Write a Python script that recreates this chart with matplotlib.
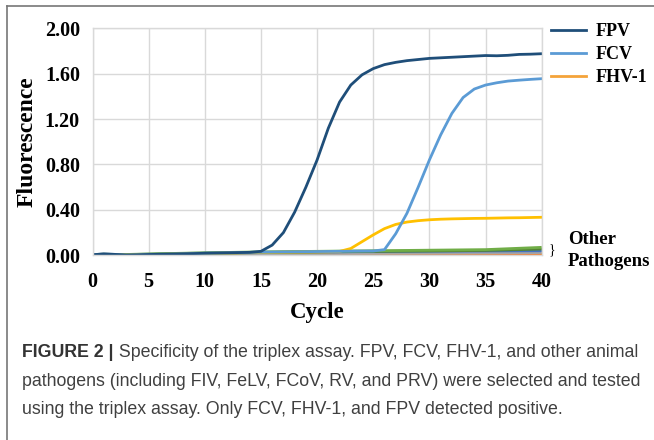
import matplotlib
matplotlib.use("Agg")
import matplotlib.pyplot as plt
from matplotlib.lines import Line2D

# ---------------- data ----------------
cycles = list(range(0, 41))
fpv = [0.005, 0.012, 0.008, 0.002, 0.004, 0.007, 0.009, 0.011, 0.013, 0.015,
       0.018, 0.02, 0.022, 0.024, 0.026, 0.035, 0.09, 0.2, 0.38, 0.6,
       0.84, 1.12, 1.35, 1.5, 1.59, 1.645, 1.68, 1.70, 1.715, 1.725,
       1.735, 1.74, 1.745, 1.75, 1.755, 1.76, 1.758, 1.762, 1.77, 1.772, 1.776]
fcv = [0.005, 0.012, 0.008, 0.002, 0.004, 0.007, 0.009, 0.011, 0.013, 0.015,
       0.018, 0.02, 0.022, 0.024, 0.026, 0.028, 0.029, 0.03, 0.031, 0.032,
       0.033, 0.034, 0.035, 0.036, 0.037, 0.038, 0.05, 0.19, 0.37, 0.6,
       0.84, 1.06, 1.25, 1.39, 1.465, 1.50, 1.52, 1.535, 1.543, 1.55, 1.556]
fhv1 = [0.005, 0.01, 0.007, 0.002, 0.004, 0.006, 0.008, 0.01, 0.012, 0.014,
        0.016, 0.018, 0.02, 0.022, 0.024, 0.025, 0.026, 0.027, 0.028, 0.029,
        0.03, 0.031, 0.034, 0.06, 0.12, 0.18, 0.235, 0.272, 0.293, 0.305,
        0.313, 0.318, 0.321, 0.323, 0.325, 0.326, 0.328, 0.33, 0.331, 0.333, 0.335]

other_cycles = [0, 5, 10, 15, 20, 25, 30, 35, 40]
other_green = [0.0, 0.012, 0.022, 0.03, 0.035, 0.04, 0.045, 0.05, 0.07]
other_darkgreen = [0.0, 0.008, 0.016, 0.024, 0.03, 0.034, 0.038, 0.043, 0.055]
other_blue = [0.0, 0.01, 0.02, 0.025, 0.03, 0.033, 0.036, 0.038, 0.04]
other_gray = [0.0, 0.006, 0.01, 0.013, 0.015, 0.017, 0.019, 0.021, 0.024]
other_orange = [0.0, 0.004, 0.006, 0.008, 0.009, 0.01, 0.011, 0.012, 0.013]
other_gold = [0.0, 0.002, 0.003, 0.004, 0.004, 0.005, 0.005, 0.006, 0.006]

series_names = ["FPV", "FCV", "FHV-1"]
legend_colors = ["#1F4E79", "#5B9BD5", "#F4A33A"]
x_ticks = [0, 5, 10, 15, 20, 25, 30, 35, 40]
y_ticks = [0.0, 0.4, 0.8, 1.2, 1.6, 2.0]

caption_bold = "FIGURE 2 |"
caption_lines = [
    " Specificity of the triplex assay. FPV, FCV, FHV-1, and other animal",
    "pathogens (including FIV, FeLV, FCoV, RV, and PRV) were selected and tested",
    "using the triplex assay. Only FCV, FHV-1, and FPV detected positive.",
]

# ---------------- figure ----------------
W, H = 654, 440
fig = plt.figure(figsize=(W / 100, H / 100), dpi=100)
ax = fig.add_axes([92.5 / W, 1 - 255.3 / H, (541.7 - 92.5) / W, (255.3 - 28.3) / H])

serif = ["Liberation Serif", "DejaVu Serif"]

others = [
    (other_gold, "#BF9000"),
    (other_orange, "#ED7D31"),
    (other_gray, "#A5A5A5"),
    (other_blue, "#4472C4"),
    (other_darkgreen, "#548235"),
    (other_green, "#70AD47"),
]
for vals, col in others:
    ax.plot(other_cycles, vals, color=col, lw=2.0, solid_capstyle="butt")

ax.plot(cycles, fhv1, color="#FFC000", lw=2.0)
ax.plot(cycles, fcv, color="#5B9BD5", lw=2.0)
ax.plot(cycles, fpv, color="#1F4E79", lw=2.0)

ax.set_xlim(0, 40)
ax.set_ylim(0, 2.0)
ax.set_xticks(x_ticks)
ax.set_yticks(y_ticks)
ax.set_yticklabels([f"{v:.2f}" for v in y_ticks])
for s in ax.spines.values():
    s.set_color("#D9D9D9")
    s.set_linewidth(1.0)
ax.grid(True, color="#D9D9D9", lw=1.0)
ax.set_axisbelow(True)
ax.tick_params(length=0, labelsize=14.5)
ax.tick_params(axis="x", pad=12)
ax.tick_params(axis="y", pad=9)
for lab in ax.get_xticklabels() + ax.get_yticklabels():
    lab.set_fontfamily(serif)
    lab.set_fontweight("bold")

ax.set_xlabel("Cycle", fontsize=16.5, fontweight="bold", family=serif, labelpad=7)
ax.set_ylabel("Fluorescence", fontsize=17, fontweight="bold", family=serif, labelpad=5)

# Legend (custom: FHV-1 legend key is orange while its curve is yellow)
handles = [Line2D([], [], color=c, lw=2.0) for c in legend_colors]
leg = ax.legend(handles, series_names, loc="upper left",
                bbox_to_anchor=(551 / W, 1 - 23 / H), bbox_transform=fig.transFigure,
                borderaxespad=0, borderpad=0, frameon=False, handlelength=1.95,
                handletextpad=0.5, labelspacing=0.33,
                prop={"family": serif, "weight": "bold", "size": 13})

# Other pathogens annotation
fig.text(549 / W, 1 - 250 / H, "}", fontsize=10, family=serif, va="center", ha="left")
fig.text(568 / W, 1 - 239 / H, "Other", fontsize=13.5, family=serif, fontweight="bold",
         va="center", ha="left")
fig.text(568 / W, 1 - 261 / H, "Pathogens", fontsize=13.5, family=serif, fontweight="bold",
         va="center", ha="left")

# Frame lines
fig.add_artist(Line2D([7 / W, 7 / W], [0, 1 - 6 / H], color="#777777", lw=1.2,
                      transform=fig.transFigure))
fig.add_artist(Line2D([7 / W, 1], [1 - 6 / H, 1 - 6 / H], color="#777777", lw=1.2,
                      transform=fig.transFigure))

# Caption
sans = ["Liberation Sans", "DejaVu Sans"]
cap_size = 12.8
t0 = fig.text(22 / W, 1 - 352 / H, caption_bold, fontsize=cap_size, family=sans,
              fontweight="bold", color="#333333", va="center", ha="left")
fig.canvas.draw()
bb = t0.get_window_extent()
fig.text(bb.x1 / W, 1 - 352 / H, caption_lines[0], fontsize=cap_size, family=sans,
         color="#404040", va="center", ha="left")
fig.text(22 / W, 1 - 381 / H, caption_lines[1], fontsize=cap_size, family=sans,
         color="#404040", va="center", ha="left")
fig.text(22 / W, 1 - 409 / H, caption_lines[2], fontsize=cap_size, family=sans,
         color="#404040", va="center", ha="left")

fig.savefig("out.png", dpi=100)
